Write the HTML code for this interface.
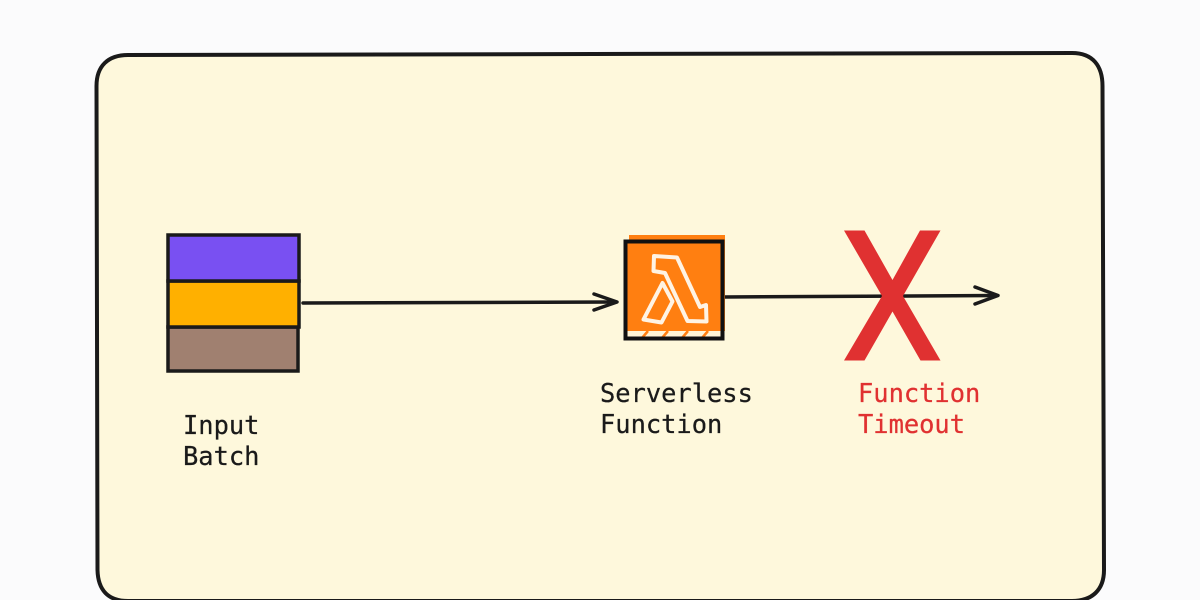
<!DOCTYPE html>
<html>
<head>
<meta charset="utf-8">
<style>
html,body{margin:0;padding:0;background:#fbfbfc;width:1200px;height:600px;overflow:hidden}
svg{display:block}
text{font-family:"DejaVu Sans Mono","Liberation Mono",monospace;font-size:25.4px;stroke-width:0.25px}
</style>
</head>
<body>
<svg width="1200" height="600" viewBox="0 0 1200 600" xmlns="http://www.w3.org/2000/svg">
<path d="M128 55 L1072 53 C1093 53 1102.500 66 1102.500 86 L1104 570 C1104 590 1092 601 1072 601 L128 601 C108 601 98 590 97.500 570 L96.500 86 C96.500 66 108 55 128 55 Z" fill="#fef8dc" stroke="#1a1a1a" stroke-width="4"/>

<rect x="168" y="327" width="130" height="44" fill="#a08070" stroke="#1a1a1a" stroke-width="3.500"/>
<rect x="168" y="281" width="131" height="46" fill="#ffb000" stroke="#1a1a1a" stroke-width="3.500"/>
<rect x="168" y="235" width="131" height="46" fill="#7950f2" stroke="#1a1a1a" stroke-width="3.500"/>

<g fill="none" stroke="#1a1a1a" stroke-width="3.500" stroke-linecap="round" stroke-linejoin="round">
<path d="M303 303 L616 302"/>
<path d="M594 294 L617 302 L594 310"/>
<path d="M723 297 L997 295.500"/>
<path d="M975 287 L998 295.500 L975 304"/>
</g>

<rect x="629" y="235" width="96" height="96" fill="#ff7f11"/>
<rect x="626" y="242" width="96" height="96" fill="#ff7f11"/>
<rect x="626" y="331" width="96" height="7" fill="#fff4d6"/>
<g stroke="#ff7f11" stroke-width="2.500">
<path d="M642 338 L648 331 M662 338 L668 331 M682 338 L688 331 M702 338 L708 331"/>
</g>
<rect x="625.500" y="241.500" width="97" height="97" fill="none" stroke="#111" stroke-width="4"/>
<g fill="none" stroke="#fff3e4" stroke-width="4" stroke-linejoin="round">
<path d="M654 256 L677 257.500 L700 307 L706 305 L706.500 321.500 L687.500 321 L665 273 L653.500 271 Z"/>
<path d="M662.500 283 L672.500 301.500 L661.500 322.500 L643.500 319.500 Z"/>
</g>

<path d="M844 230.500 L864.500 230.500 L892.500 280 L920 230.500 L940.500 230.500 L903 296 L940.500 360.500 L920.500 360.500 L892.500 311.500 L864.500 360.500 L844 360.500 L882 296 Z" fill="#e03131"/>

<g fill="#1a1a1a" stroke="#1a1a1a">
<text x="183" y="434">Input</text>
<text x="183" y="465">Batch</text>
<text x="600" y="402">Serverless</text>
<text x="600" y="433">Function</text>
</g>
<g fill="#e03131" stroke="#e03131">
<text x="858" y="402">Function</text>
<text x="858" y="433">Timeout</text>
</g>
</svg>
</body>
</html>
